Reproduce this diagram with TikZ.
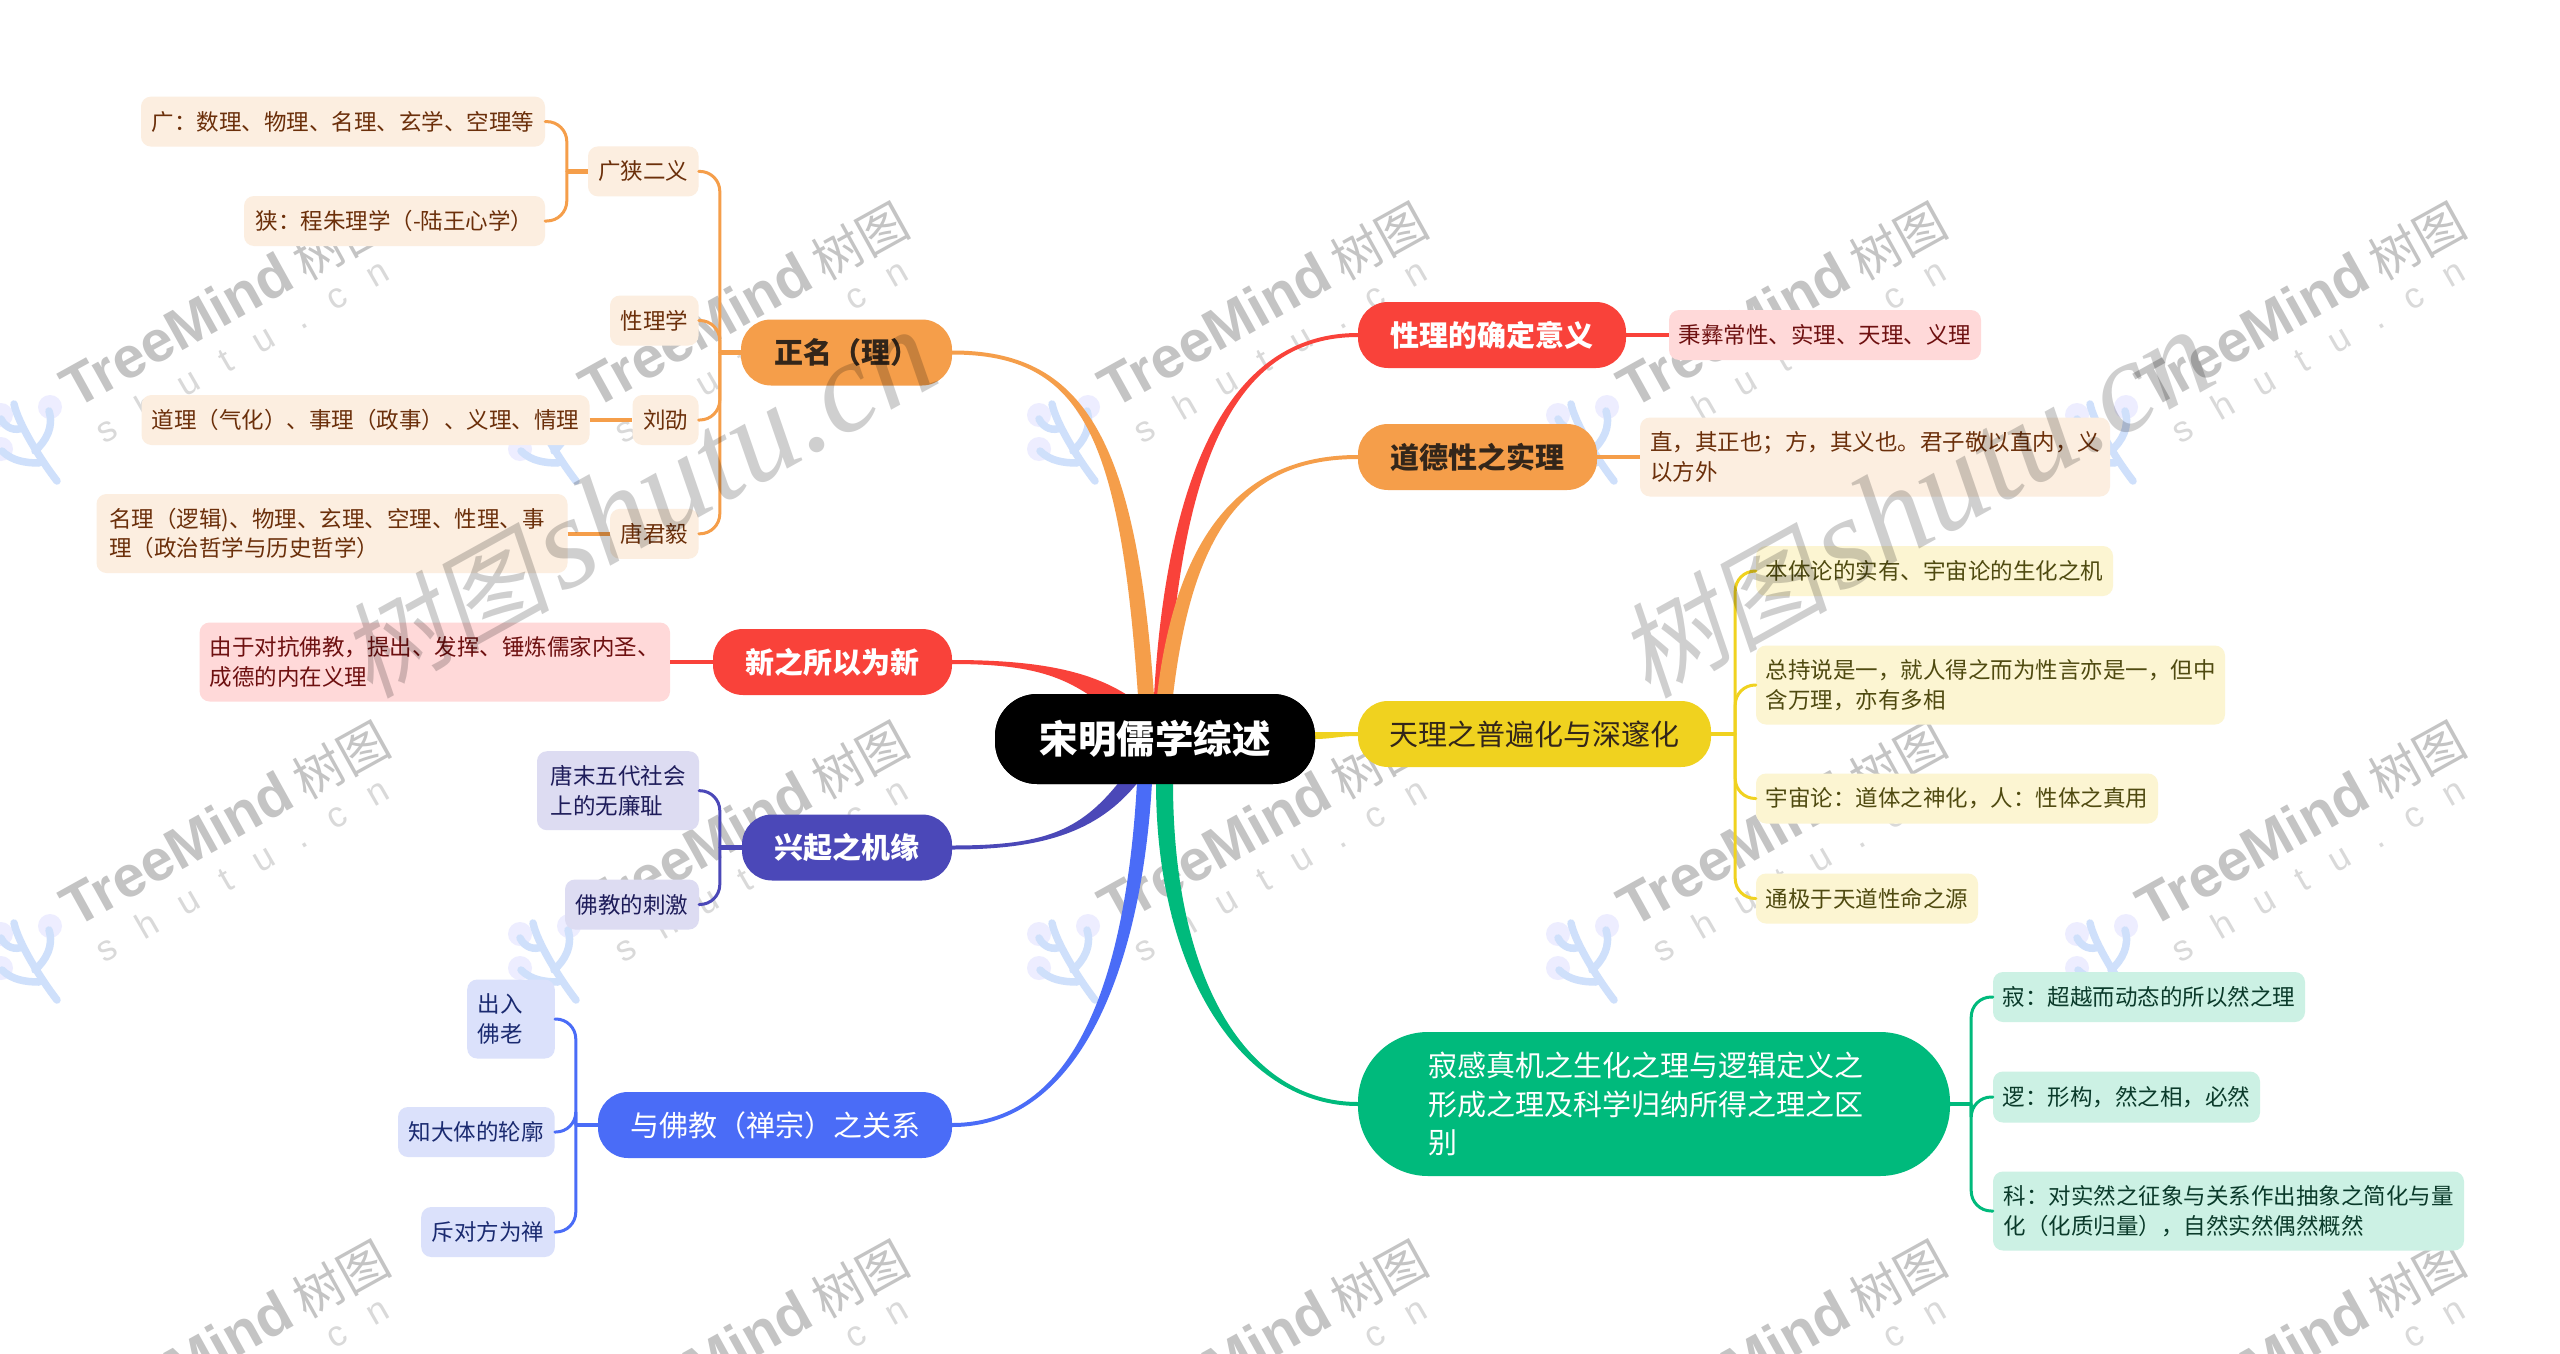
\documentclass[tikz,border=0pt]{standalone}
\usepackage{fontspec}
\usetikzlibrary{calc}
\setmainfont{Noto Sans CJK SC}
\newfontfamily\wmlatin{Liberation Sans}
\newfontfamily\wmserif{Liberation Serif}
\newfontfamily\wmslant[FakeSlant=0.18]{Noto Sans CJK SC}
\definecolor{cred}{HTML}{F9423A}
\definecolor{corange}{HTML}{F59E4A}
\definecolor{cyellow}{HTML}{F0D21F}
\definecolor{cindigo}{HTML}{4B48B8}
\definecolor{cblue}{HTML}{4A6CF7}
\definecolor{cgreen}{HTML}{00BA7C}
\definecolor{lred}{HTML}{FFD9D9}
\definecolor{lorange}{HTML}{FCEEE0}
\definecolor{lyellow}{HTML}{FCF5D2}
\definecolor{lindigo}{HTML}{DDDCF2}
\definecolor{lblue}{HTML}{DBE1FB}
\definecolor{lgreen}{HTML}{CCF1E4}
\definecolor{tred}{HTML}{6E1010}
\definecolor{torange}{HTML}{6B2F0A}
\definecolor{tyellow}{HTML}{4F4A10}
\definecolor{tindigo}{HTML}{1E1C5A}
\definecolor{tblue}{HTML}{1A2A70}
\definecolor{tgreen}{HTML}{0A3A2A}
\definecolor{tdark}{HTML}{33261A}
\tikzset{
  x=1pt,y=-1pt,
  nodebase/.style={rectangle,inner sep=0pt,align=left},
  leaf/.style 2 args={nodebase,fill=#1,text=#2,rounded corners=10pt,minimum height=50pt,font=\fontsize{22.5}{29.5}\selectfont},
  lorangeleaf/.style={leaf={lorange}{torange}},
  lredleaf/.style={leaf={lred}{tred}},
  lyellowleaf/.style={leaf={lyellow}{tyellow}},
  lindigoleaf/.style={leaf={lindigo}{tindigo}},
  lblueleaf/.style={leaf={lblue}{tblue}},
  lgreenleaf/.style={leaf={lgreen}{tgreen}},
  pill/.style 2 args={nodebase,fill=#1,text=#2,rounded corners=30pt,minimum height=66pt,font=\fontsize{29}{38.5}\selectfont},
  boldpill/.style 2 args={pill={#1}{#2},font=\fontsize{29}{38.5}\selectfont\bfseries},
  wid/.style={minimum width=#1},
  conn/.style={line width=3pt,rounded corners=20pt,line cap=round},
  stub/.style={line width=4.5pt},
  wmtree/.style={inner sep=0pt,anchor=base west,rotate=29,text=black!23},
  wmsub/.style={inner sep=0pt,anchor=base west,rotate=30,text=black!15},
  wmbig/.style={inner sep=0pt,anchor=base west,rotate=29,text=black,text opacity=0.19},
}
\newcommand{\taper}[7]{\fill[#1] (#2) .. controls +(#4) and +(#5) .. (#6) -- (#7) .. controls +(#5) and +(#4) .. (#3) -- cycle;}
\begin{document}
\begin{tikzpicture}
\useasboundingbox (0,0) rectangle (2560,1354);
\fill[white] (0,0) rectangle (2560,1354);
% tiled marks
\foreach \i in {0,...,4}{\foreach \j in {0,1,2}{
  \begin{scope}[shift={(-6+519*\i,401+519*\j)}]
    \fill[blue!7!white] (7,14) circle (12) (56,6) circle (12) (7,48) circle (12);
    \draw[line width=7.5pt,line cap=round,color={rgb,255:red,207;green,224;blue,251}]
      (20,3) .. controls (24,22) and (46,58) .. (63,80)
      (7,18) .. controls (12,28) and (22,30) .. (28,27)
      (55,10) .. controls (60,26) and (52,40) .. (41,50)
      (8,50) .. controls (18,60) and (32,62) .. (45,62);
    \node[wmtree] (tm\i\j) at (81,9) {\wmlatin\fontsize{58}{58}\selectfont\bfseries TreeMind\hspace{10pt}\normalfont\fontsize{50}{50}\selectfont 树图};
    \node[wmsub] (ts\i\j) at (110,44) {\wmlatin\addfontfeature{LetterSpace=78}\fontsize{36}{36}\selectfont shutu.cn};
  \end{scope}
}}
% main branches
\node[nodebase,wid=320pt,minimum height=90pt,rounded corners=42pt,fill=black,text=white,font=\fontsize{38.5}{46}\selectfont\bfseries] (root) at (1155,739) {宋明儒学综述};
\node[boldpill={corange}{tdark},wid=211pt] (zm) at (846.5,352.5) {正名（理）};
\node[boldpill={cred}{white},wid=239pt] (xz) at (832.5,662) {新之所以为新};
\node[boldpill={cindigo}{white},wid=210pt] (xq) at (847,847.5) {兴起之机缘};
\node[pill={cblue}{white},wid=354pt] (yf) at (775,1125) {与佛教（禅宗）之关系};
\node[boldpill={cred}{white},wid=268pt] (xd) at (1492,335) {性理的确定意义};
\node[boldpill={corange}{tdark},wid=239pt] (dd) at (1477.5,457) {道德性之实理};
\node[pill={cyellow}{tdark},wid=353pt] (tl) at (1534.5,734) {天理之普遍化与深邃化};
\node[pill={cgreen}{white},wid=592pt,minimum height=144pt,rounded corners=70pt] (jg) at (1654,1104) {\hspace*{-16pt}寂感真机之生化之理与逻辑定义之\\\hspace*{-16pt}形成之理及科学归纳所得之理之区\\\hspace*{-16pt}别};
% leaves
\node[lorangeleaf,wid=404pt] (ga) at (343,121.6) {广：数理、物理、名理、玄学、空理等};
\node[lorangeleaf,wid=301pt] (gb) at (394.5,221) {狭：程朱理学（-陆王心学）};
\node[lorangeleaf,wid=110.6pt] (gx) at (643.3,171.4) {广狭二义};
\node[lorangeleaf,wid=88.6pt] (xl) at (654.3,320.5) {性理学};
\node[lorangeleaf,wid=66pt] (lx) at (665.5,420) {刘劭};
\node[lorangeleaf,wid=448pt] (dl) at (365.5,420) {道理（气化）、事理（政事）、义理、情理};
\node[lorangeleaf,wid=88.6pt] (tj) at (654.3,533.8) {唐君毅};
\node[lorangeleaf,wid=471pt,minimum height=79pt] (ml) at (332,533.5) {\hspace*{-10pt}名理（逻辑)、物理、玄理、空理、性理、事\\\hspace*{-10pt}理（政治哲学与历史哲学）};
\node[lredleaf,wid=470.4pt,minimum height=79pt] (yy) at (434.8,662) {由于对抗佛教，提出、发挥、锤炼儒家内圣、\\成德的内在义理};
\node[lindigoleaf,wid=162pt,minimum height=79pt] (tm) at (618,790.7) {唐末五代社会\\上的无廉耻};
\node[lindigoleaf,wid=134pt] (fj) at (632,904.5) {佛教的刺激};
\node[lblueleaf,wid=87.6pt,minimum height=79pt] (cr) at (511,1019) {\hspace*{-22pt}出入\\\hspace*{-22pt}佛老};
\node[lblueleaf,wid=156.6pt] (zd) at (476.3,1132) {知大体的轮廓};
\node[lblueleaf,wid=133.6pt] (cd) at (488,1232) {斥对方为禅};
\node[lredleaf,wid=312pt] (bg) at (1825,335) {秉彝常性、实理、天理、义理};
\node[lorangeleaf,wid=470pt,minimum height=79pt] (zh) at (1875,457) {直，其正也；方，其义也。君子敬以直内，义\\以方外};
\node[lyellowleaf,wid=357pt] (bt) at (1934.5,571) {本体论的实有、宇宙论的生化之机};
\node[lyellowleaf,wid=469pt,minimum height=79pt] (zc) at (1990.5,685) {总持说是一，就人得之而为性言亦是一，但中\\含万理，亦有多相};
\node[lyellowleaf,wid=402pt] (yz) at (1957,798.5) {宇宙论：道体之神化，人：性体之真用};
\node[lyellowleaf,wid=222pt] (tg) at (1867,898.5) {通极于天道性命之源};
\node[lgreenleaf,wid=312pt] (ja) at (2149,997) {寂：超越而动态的所以然之理};
\node[lgreenleaf,wid=267pt,minimum height=51pt] (jb) at (2126.5,1097) {逻：形构，然之相，必然};
\node[lgreenleaf,wid=471pt,minimum height=79pt] (jc) at (2228.5,1211) {科：对实然之征象与关系作出抽象之简化与量\\化（化质归量），自然实然偶然概然};
% junctions
\coordinate (jzm) at ($(zm.west)+(-21,0)$);
\coordinate (jgx) at ($(gx.west)+(-21,0)$);
\coordinate (jxq) at ($(xq.west)+(-22,0)$);
\coordinate (jyf) at ($(yf.west)+(-22,0)$);
\coordinate (jtl) at ($(tl.east)+(24,0)$);
\coordinate (jjg) at ($(jg.east)+(21,0)$);
% tapered trunk branches
\taper{cred}{$(root.north)+(-45,16)$}{$(root.north)+(-18,8)$}{-40,-30}{90,0}{$(xz.east)+(0,2)$}{$(xz.east)+(0,-2)$}
\taper{cred}{$(root.north)+(-1,2)$}{$(root.north)+(13,2)$}{14,-240}{-120,0}{$(xd.west)+(0,-2)$}{$(xd.west)+(0,2)$}
\taper{corange}{$(root.north)+(-17,2)$}{$(root.north)+(-1,2)$}{-18,-260}{130,0}{$(zm.east)+(0,2)$}{$(zm.east)+(0,-2)$}
\taper{corange}{$(root.north)+(2,2)$}{$(root.north)+(18,2)$}{20,-170}{-110,0}{$(dd.west)+(0,-2)$}{$(dd.west)+(0,2)$}
\taper{cindigo}{$(root.south)+(-36,-2)$}{$(root.south)+(-17,-2)$}{-40,50}{90,0}{$(xq.east)+(0,-2)$}{$(xq.east)+(0,2)$}
\taper{cblue}{$(root.south)+(-18,-2)$}{$(root.south)+(-3,-2)$}{-10,180}{130,0}{$(yf.east)+(0,-2)$}{$(yf.east)+(0,2)$}
\taper{cgreen}{$(root.south)+(1,-2)$}{$(root.south)+(18,-2)$}{0,200}{-110,0}{$(jg.west)+(0,2)$}{$(jg.west)+(0,-2)$}
\taper{cyellow}{$(root.east)+(-2,-7)$}{$(root.east)+(-2,0)$}{20,0}{-20,0}{$(tl.west)+(0,-2)$}{$(tl.west)+(0,2)$}
% centre again, over the roots of its branches
\node[nodebase,wid=320pt,minimum height=90pt,rounded corners=42pt,fill=black,text=white,font=\fontsize{38.5}{46}\selectfont\bfseries] (rootf) at (root) {宋明儒学综述};
% child connectors
\draw[conn,corange] (gx.east) -| (jzm);
\draw[conn,corange] (xl.east) -| (jzm);
\draw[conn,corange] (lx.east) -| (jzm);
\draw[conn,corange] (tj.east) -| (jzm);
\draw[stub,corange] (zm.west) -- (jzm);
\draw[conn,corange] (ga.east) -| (jgx);
\draw[conn,corange] (gb.east) -| (jgx);
\draw[stub,corange] (gx.west) -- (jgx);
\draw[stub,corange] (dl.east) -- (lx.west);
\draw[stub,corange] (ml.east|-tj.west) -- (tj.west);
\draw[line width=3.5pt,cred] (yy.east) -- (xz.west);
\draw[conn,cindigo] (tm.east) -| (jxq);
\draw[conn,cindigo] (fj.east) -| (jxq);
\draw[stub,cindigo] (xq.west) -- (jxq);
\draw[conn,cblue] (cr.east) -| (jyf);
\draw[conn,cblue] (zd.east) -| (jyf);
\draw[conn,cblue] (cd.east) -| (jyf);
\draw[stub,cblue] (yf.west) -- (jyf);
\draw[stub,cred] (xd.east) -- (bg.west);
\draw[stub,corange] (dd.east) -- (zh.west);
\draw[conn,cyellow] (bt.west) -| (jtl);
\draw[conn,cyellow] (zc.west) -| (jtl);
\draw[conn,cyellow] (yz.west) -| (jtl);
\draw[conn,cyellow] (tg.west) -| (jtl);
\draw[stub,cyellow] (tl.east) -- (jtl);
\draw[conn,cgreen] (ja.west) -| (jjg);
\draw[conn,cgreen] (jb.west) -| (jjg);
\draw[conn,cgreen] (jc.west) -| (jjg);
\draw[stub,cgreen] (jg.east) -- (jjg);
% large marks over everything
\node[wmbig] (bigA) at (370,700) {\wmslant\fontsize{105}{105}\selectfont 树图\hspace{10pt}\wmserif\itshape\fontsize{130}{130}\selectfont shutu.cn};
\node[wmbig] (bigB) at (1648,700) {\wmslant\fontsize{105}{105}\selectfont 树图\hspace{10pt}\wmserif\itshape\fontsize{130}{130}\selectfont shutu.cn};
\end{tikzpicture}
\end{document}
